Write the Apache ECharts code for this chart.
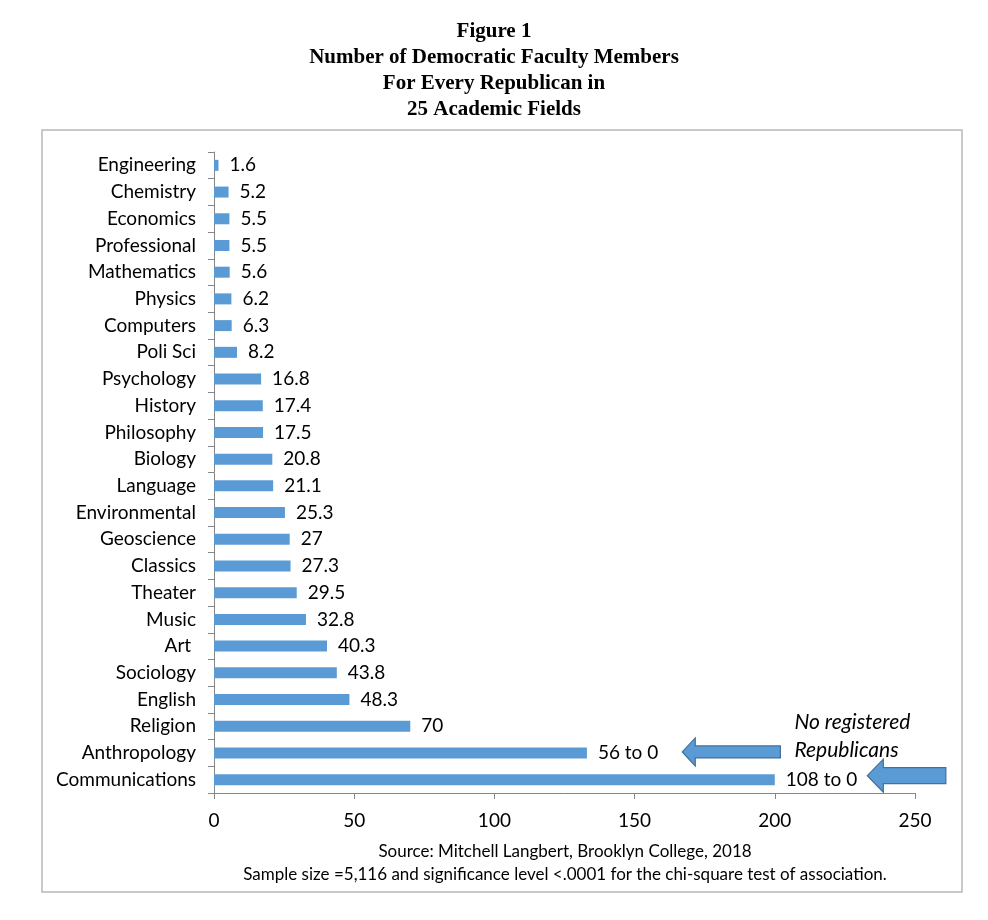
<!DOCTYPE html>
<html>
<head>
    <meta charset="utf-8">
    <title>Figure 1</title>
    <script src="https://cdn.jsdelivr.net/npm/echarts@6/dist/echarts.min.js"></script>
    <style>
        html, body { margin: 0; padding: 0; background: #ffffff; }
        #chart { width: 988px; height: 920px; }
    </style>
</head>
<body>
<div id="chart"></div>
<script>
    // fields, top to bottom
    var fields = ['Engineering', 'Chemistry', 'Economics', 'Professional', 'Mathematics', 'Physics',
        'Computers', 'Poli Sci', 'Psychology', 'History', 'Philosophy', 'Biology', 'Language',
        'Environmental', 'Geoscience', 'Classics', 'Theater', 'Music', 'Art ', 'Sociology',
        'English', 'Religion', 'Anthropology', 'Communications'];
    // bar lengths as drawn (the last two are capped, see labels)
    var ratios = [1.6, 5.2, 5.5, 5.5, 5.6, 6.2, 6.3, 8.2, 16.8, 17.4, 17.5, 20.8, 21.1,
        25.3, 27, 27.3, 29.5, 32.8, 40.3, 43.8, 48.3, 70, 133, 200];
    var barLabels = ['1.6', '5.2', '5.5', '5.5', '5.6', '6.2', '6.3', '8.2', '16.8', '17.4', '17.5',
        '20.8', '21.1', '25.3', '27', '27.3', '29.5', '32.8', '40.3', '43.8', '48.3', '70',
        '56 to 0', '108 to 0'];
    var xTicks = [0, 50, 100, 150, 200, 250];

    var sans = 'Lato, "Open Sans", sans-serif';
    var chart = echarts.init(document.getElementById('chart'));

    var option = {
        animation: false,
        backgroundColor: '#ffffff',
        title: {
            text: 'Figure 1\nNumber of Democratic Faculty Members\nFor Every Republican in\n25 Academic Fields',
            left: 'center',
            top: 14,
            textStyle: {
                fontFamily: '"Liberation Serif", "DejaVu Serif", serif',
                fontWeight: 'bold',
                fontSize: 21,
                lineHeight: 26,
                color: '#000000'
            }
        },
        grid: { left: 214, right: 73, top: 152, bottom: 127, containLabel: false },
        xAxis: {
            type: 'value',
            min: xTicks[0],
            max: xTicks[xTicks.length - 1],
            interval: 50,
            axisLine: { show: true, lineStyle: { color: '#868686', width: 1 } },
            axisTick: { show: true, inside: false, length: 6, lineStyle: { color: '#868686' } },
            splitLine: { show: false },
            axisLabel: { fontFamily: sans, fontSize: 19, color: '#000000', margin: 18 }
        },
        yAxis: {
            type: 'category',
            inverse: true,
            data: fields,
            axisLine: { show: true, lineStyle: { color: '#868686', width: 1 } },
            axisTick: { show: true, length: 6, alignWithLabel: false, lineStyle: { color: '#868686' } },
            axisLabel: { fontFamily: sans, fontSize: 19, color: '#000000', margin: 18 }
        },
        series: [{
            type: 'bar',
            data: ratios,
            barWidth: 11,
            itemStyle: { color: '#5b9bd5' },
            label: {
                show: true,
                position: 'right',
                distance: 11,
                fontFamily: sans,
                fontSize: 19,
                color: '#000000',
                formatter: function (p) { return barLabels[p.dataIndex]; }
            }
        }]
    };
    chart.setOption(option);

    // block arrow pointing left: tip at value v0, tail at v1, on a category row
    function arrowPoints(v0, v1, cat, dy, bodyH, headH, headW) {
        var tip = chart.convertToPixel({ gridIndex: 0 }, [v0, cat]);
        var tail = chart.convertToPixel({ gridIndex: 0 }, [v1, cat]);
        var y = tip[1] + dy, x0 = tip[0], x1 = tail[0];
        return [
            [x0, y],
            [x0 + headW, y - headH / 2],
            [x0 + headW, y - bodyH / 2],
            [x1, y - bodyH / 2],
            [x1, y + bodyH / 2],
            [x0 + headW, y + bodyH / 2],
            [x0 + headW, y + headH / 2]
        ];
    }

    var noteAt = chart.convertToPixel({ gridIndex: 0 }, [207, 'Anthropology']);
    var boxStyle = { fill: '#5b9bd5', stroke: '#41719c', lineWidth: 1.2 };

    chart.setOption({
        graphic: [
            {
                type: 'rect',
                shape: { x: 42, y: 130, width: 920, height: 762 },
                style: { fill: 'none', stroke: '#b8b8b8', lineWidth: 1.5 },
                silent: true
            },
            {
                type: 'polygon',
                shape: { points: arrowPoints(167, 202, 'Anthropology', -1, 12, 28, 13) },
                style: boxStyle
            },
            {
                type: 'polygon',
                shape: { points: arrowPoints(233, 261, 'Communications', -4, 16, 33, 16) },
                style: boxStyle
            },
            {
                type: 'text',
                left: noteAt[0],
                top: noteAt[1] - 45,
                style: {
                    text: 'No registered\nRepublicans',
                    fontFamily: sans,
                    fontStyle: 'italic',
                    fontSize: 21,
                    lineHeight: 28,
                    fill: '#000000'
                }
            },
            {
                type: 'text',
                x: 565,
                y: 843,
                style: {
                    text: 'Source: Mitchell Langbert, Brooklyn College, 2018',
                    fontFamily: sans,
                    fontSize: 17,
                    fill: '#000000',
                    align: 'center'
                }
            },
            {
                type: 'text',
                x: 565,
                y: 866,
                style: {
                    text: 'Sample size =5,116 and significance level <.0001 for the chi-square test of association.',
                    fontFamily: sans,
                    fontSize: 17,
                    fill: '#000000',
                    align: 'center'
                }
            }
        ]
    });
</script>
</body>
</html>
